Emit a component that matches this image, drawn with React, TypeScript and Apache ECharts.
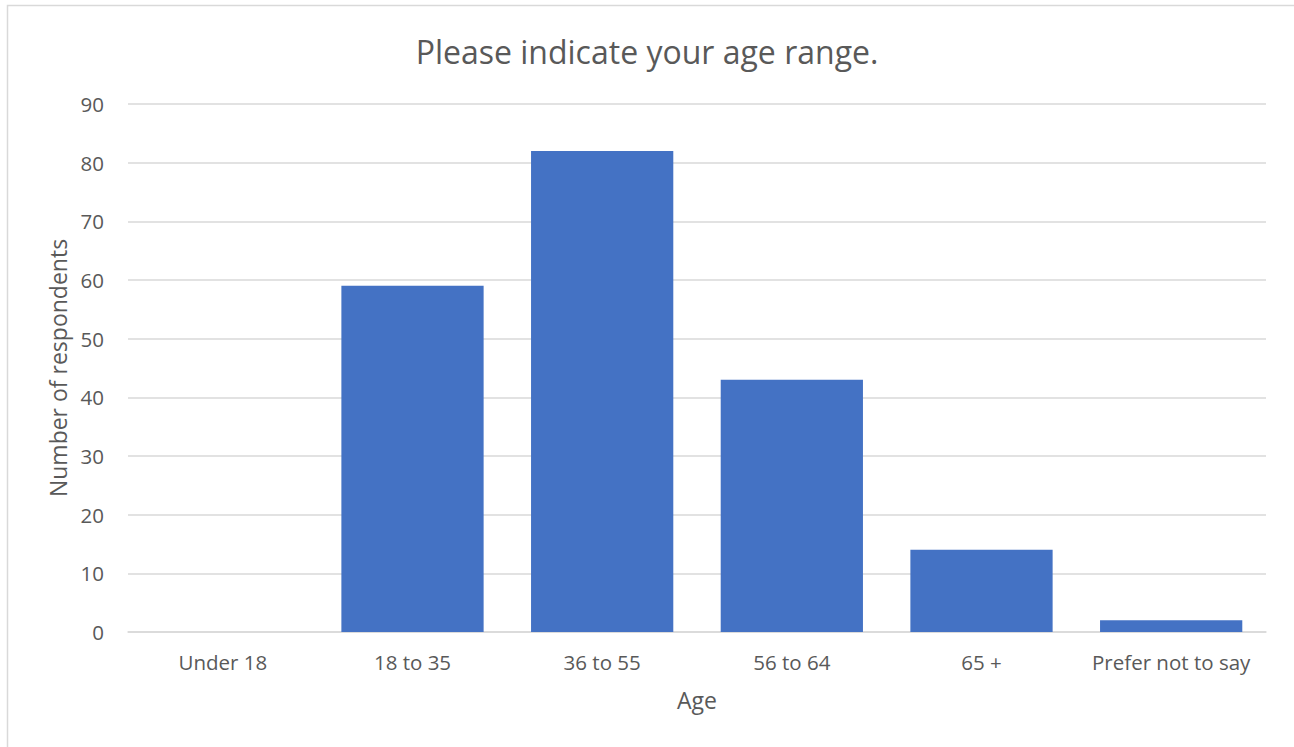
import React, { useEffect, useRef } from "react";
import * as echarts from "echarts";

const categories = ["Under 18", "18 to 35", "36 to 55", "56 to 64", "65 +", "Prefer not to say"];
const respondents = [0, 59, 82, 43, 14, 2];
const titleText = "Please indicate your age range.";
const xAxisName = "Age";
const yAxisName = "Number of respondents";

const FONT = "'Open Sans', 'Noto Sans', sans-serif";
const TXT = "#595959";

export default function App() {
  const ref = useRef<HTMLDivElement>(null);
  useEffect(() => {
    document.body.style.margin = "0";
    const chart = echarts.init(ref.current!, null, { renderer: "svg" });
    chart.setOption({
      animation: false,
      backgroundColor: "#ffffff",
      textStyle: { fontFamily: FONT },
      graphic: [
        {
          type: "rect",
          shape: { x: 7.5, y: 5.5, width: 1320, height: 800 },
          style: { fill: "none", stroke: "#d9d9d9", lineWidth: 1.5 },
          silent: true,
        },
      ],
      title: {
        text: titleText,
        left: "center",
        top: 30,
        textStyle: { fontFamily: FONT, fontSize: 32, fontWeight: "normal", color: TXT },
      },
      grid: { left: 128, right: 28, top: 104, bottom: 115 },
      xAxis: {
        type: "category",
        data: categories,
        name: xAxisName,
        nameLocation: "middle",
        nameGap: 56,
        nameTextStyle: { fontFamily: FONT, fontSize: 23, color: TXT },
        axisLine: { lineStyle: { color: "#d9d9d9", width: 1.5 } },
        axisTick: { show: false },
        axisLabel: { fontFamily: FONT, fontSize: 20.5, color: TXT, margin: 19, interval: 0 },
      },
      yAxis: {
        type: "value",
        min: 0,
        max: 90,
        interval: 10,
        name: yAxisName,
        nameLocation: "middle",
        nameGap: 58,
        nameTextStyle: { fontFamily: FONT, fontSize: 23, color: TXT },
        axisLine: { show: false },
        axisTick: { show: false },
        axisLabel: { fontFamily: FONT, fontSize: 20.5, color: TXT, margin: 24 },
        splitLine: { lineStyle: { color: "#d9d9d9", width: 1.5 } },
      },
      series: [
        {
          type: "bar",
          data: respondents,
          barCategoryGap: "25%",
          itemStyle: { color: "#4472c4" },
        },
      ],
    });
    return () => chart.dispose();
  }, []);
  return <div ref={ref} style={{ width: 1294, height: 747 }} />;
}
